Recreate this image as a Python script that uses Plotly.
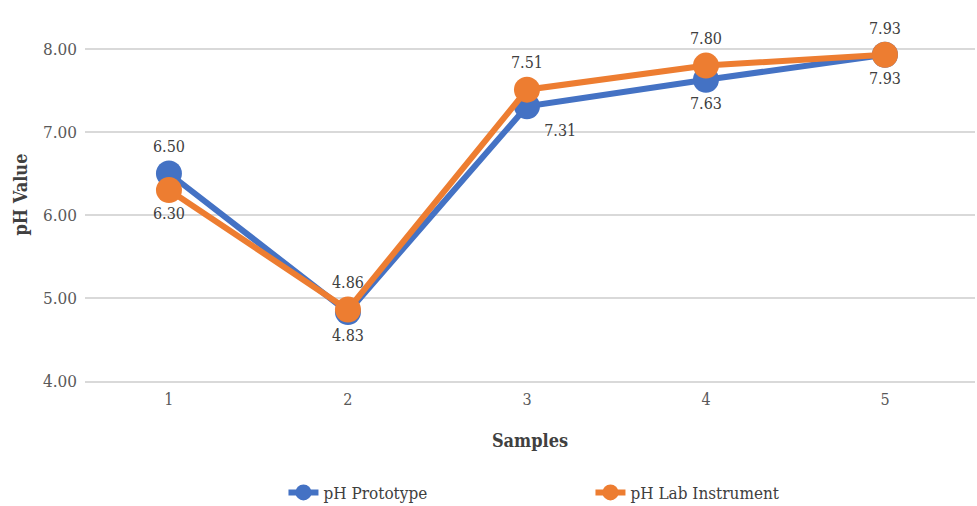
import plotly.graph_objects as go

samples = [1, 2, 3, 4, 5]
ph_prototype = [6.50, 4.83, 7.31, 7.63, 7.93]
ph_lab = [6.30, 4.86, 7.51, 7.80, 7.93]
proto_pos = ["top center", "bottom center", "bottom right", "bottom center", "bottom center"]
lab_pos = ["bottom center", "top center", "top center", "top center", "top center"]

FONT = "DejaVu Serif Condensed, Liberation Serif, serif"

fig = go.Figure()
fig.add_trace(go.Scatter(
    x=samples, y=ph_prototype, name="pH Prototype", mode="lines+markers+text",
    line=dict(color="#4472C4", width=6), marker=dict(size=26, color="#4472C4"),
    text=[f"{v:.2f}" for v in ph_prototype], textposition=proto_pos,
    textfont=dict(size=16, color="#404040", family=FONT), cliponaxis=False,
))
fig.add_trace(go.Scatter(
    x=samples, y=ph_lab, name="pH Lab Instrument", mode="lines+markers+text",
    line=dict(color="#ED7D31", width=6), marker=dict(size=26, color="#ED7D31"),
    text=[f"{v:.2f}" for v in ph_lab], textposition=lab_pos,
    textfont=dict(size=16, color="#404040", family=FONT), cliponaxis=False,
))

fig.update_layout(
    width=977, height=506,
    margin=dict(l=85, r=2, t=8, b=125),
    plot_bgcolor="white", paper_bgcolor="white",
    font=dict(family=FONT, size=16, color="#595959"),
    showlegend=True,
    legend=dict(orientation="h", x=0.223, xanchor="left", yref="container", y=0.026, yanchor="middle",
                font=dict(size=17, color="#404040"), entrywidth=262, entrywidthmode="pixels",
                traceorder="normal"),
    xaxis=dict(range=[0.531, 5.503], tickvals=samples, ticktext=[str(s) for s in samples],
               showgrid=False, zeroline=False, showline=True, linecolor="#D9D9D9", linewidth=2,
               ticks="", automargin=False, ticklabelstandoff=3,
               tickfont=dict(size=16, color="#595959"),
               title=dict(text="<b>Samples</b>", font=dict(size=18, color="#404040"), standoff=26)),
    yaxis=dict(range=[4, 8.494], tickvals=[4, 5, 6, 7, 8], tickformat=".2f",
               showgrid=True, gridcolor="#D9D9D9", gridwidth=2, zeroline=False,
               showline=False, ticks="", automargin=False, ticklabelstandoff=7,
               tickfont=dict(size=17, color="#595959"),
               title=dict(text="<b>pH Value</b>", font=dict(size=18, color="#404040"), standoff=10)),
)
fig.write_html("out.html", post_script="document.body.style.margin='0';",
               config={"displayModeBar": False})
